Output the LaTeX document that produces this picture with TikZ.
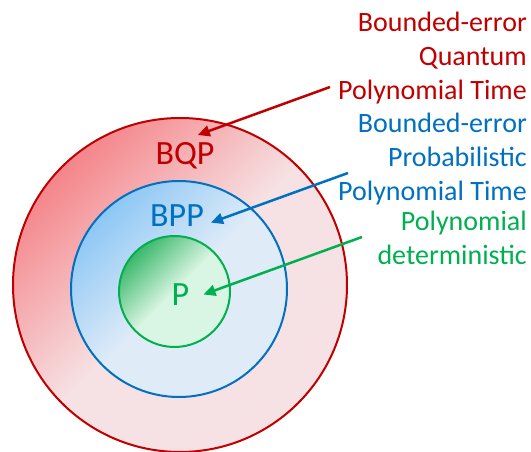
\documentclass[tikz,border=0pt]{standalone}
\usepackage{fontspec}
\setmainfont{Carlito}
\usetikzlibrary{arrows.meta}

\definecolor{bqpred}{HTML}{C00000}
\definecolor{bppblue}{HTML}{0070C0}
\definecolor{pgreen}{HTML}{00B050}
\definecolor{bqpdark}{HTML}{F4858A}
\definecolor{bqppale}{HTML}{F6E2E4}
\definecolor{bppdark}{HTML}{8DC7F5}
\definecolor{bpppale}{HTML}{DFEBF7}
\definecolor{pdark}{HTML}{3AB86A}
\definecolor{ppale}{HTML}{D9F5E3}

\begin{document}
\begin{tikzpicture}[x=1pt,y=-1pt]
			\tikzstyle{ring}=[line width=2pt]
			\tikzstyle{cls}=[font=\fontsize{34}{40}\selectfont,inner sep=7pt]
			\tikzstyle{info}=[font=\fontsize{28}{34}\selectfont,align=right,anchor=north east,inner sep=0pt]
			\tikzstyle{pointer}=[line width=2.5pt,-{Triangle[length=12pt,width=11pt]}]

			\useasboundingbox (0,0) rectangle (531,452);

			\draw[ring,draw=bqpred,top color=bqpdark,bottom color=bqppale,middle color=bqppale,shading angle=45] (180,285) circle (167pt);
			\draw[ring,draw=bppblue,top color=bppdark,bottom color=bpppale,middle color=bpppale,shading angle=45] (179,289) circle (108pt);
			\draw[ring,draw=pgreen,top color=pdark,bottom color=ppale,middle color=ppale,shading angle=45] (174.5,291.5) circle (55.5pt);

			\node[cls,text=bqpred] (bqp) at (185,155.5) {BQP};
			\node[cls,text=bppblue] (bpp) at (177,216) {BPP};
			\node[cls,text=pgreen,inner xsep=14pt] (p) at (180.5,294.5) {P};

			\node[info,text=bqpred] (bqp info) at (527,12) {Bounded-error\\Quantum\\Polynomial Time};
			\node[info,text=bppblue] (bpp info) at (527,113) {Bounded-error\\Probabilistic\\Polynomial Time};
			\node[info,text=pgreen] (p info) at (527,211) {Polynomial\\deterministic};

			\coordinate (bqp tail) at (330,87);
			\coordinate (bpp tail) at (348,173);
			\coordinate (p tail) at (362,237);

			\draw[pointer,bqpred] (bqp tail) -- (bqp.58);
			\draw[pointer,bppblue] (bpp tail) -- (bpp.-11);
			\draw[pointer,pgreen] (p tail) -- (p.east);
\end{tikzpicture}
\end{document}
